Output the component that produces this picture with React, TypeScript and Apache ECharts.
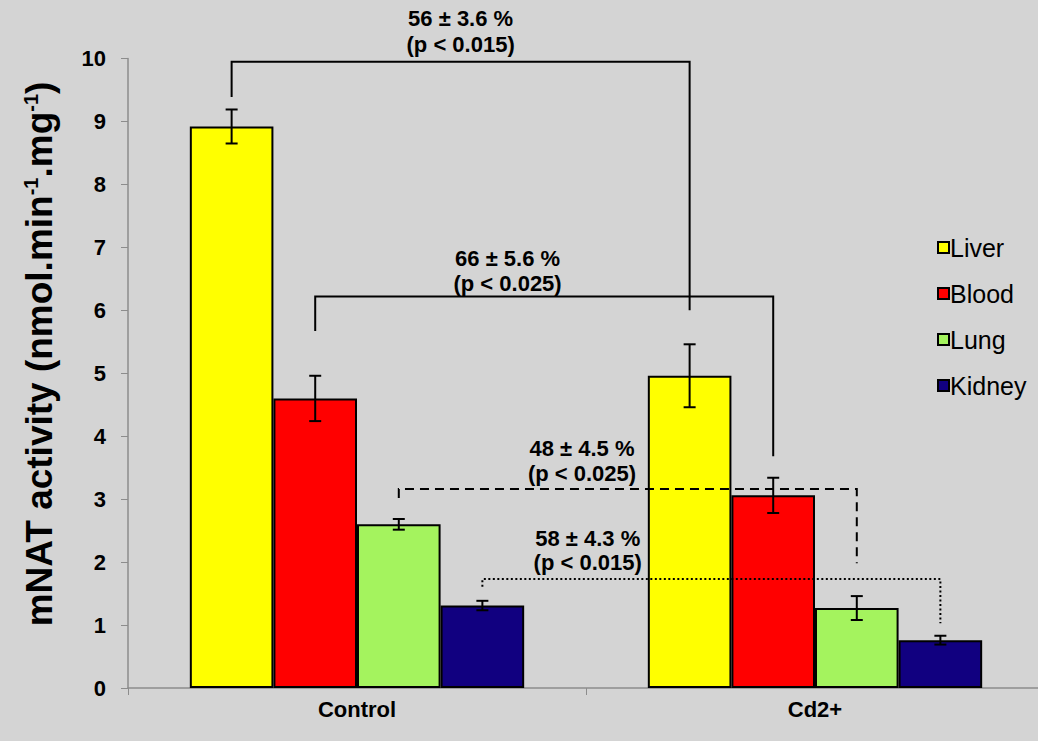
import React, { useEffect, useRef } from "react";
import * as echarts from "echarts";

const categories = ["Control", "Cd2+"];
const tissues = ["Liver", "Blood", "Lung", "Kidney"];
const tissueColors = ["#ffff00", "#ff0000", "#a4f35e", "#110080"];

const liverMean = [8.92, 4.96];
const liverErr = [0.27, 0.5];
const bloodMean = [4.6, 3.06];
const bloodErr = [0.36, 0.28];
const lungMean = [2.6, 1.27];
const lungErr = [0.085, 0.19];
const kidneyMean = [1.31, 0.76];
const kidneyErr = [0.075, 0.07];

const yTicks = [0, 1, 2, 3, 4, 5, 6, 7, 8, 9, 10];
const yTitle = "mNAT activity (nmol.min{sup|-1}.mg{sup|-1})";

// Comparison brackets (Control tissue -> Cd2+ tissue)
const bracketTissue = [0, 1, 2, 3];
const bracketLineY = [9.95, 6.22, 3.16, 1.73];
const bracketLeftEnd = [9.39, 5.67, 3.02, 1.61];
const bracketRightEnd = [6.0, 3.68, 1.98, 1.03];
const bracketDash = ["solid", "solid", "dashed", "dotted"];
const bracketPct = ["56 ± 3.6 %", "66 ± 5.6 %", "48 ± 4.5 %", "58 ± 4.3 %"];
const bracketP = ["(p < 0.015)", "(p < 0.025)", "(p < 0.025)", "(p < 0.015)"];
const bracketLabelFrac = [0.5, 0.42, 0.4, 0.23];
const bracketLabelY1 = [10.63, 6.83, 3.81, 2.38];
const bracketLabelY2 = [10.22, 6.43, 3.4, 2.0];

const means = [liverMean, bloodMean, lungMean, kidneyMean];
const errs = [liverErr, bloodErr, lungErr, kidneyErr];

const FONT = "'Liberation Sans', Arial, Helvetica, sans-serif";
const GAP = 0.27;

function barX(api: any, cat: number, k: number, v: number) {
  const band = api.size([1, 0])[0];
  const bw = (band * (1 - GAP)) / tissues.length;
  const c = api.coord([cat, v]);
  return c[0] + (k - (tissues.length - 1) / 2) * bw;
}

export default function App() {
  const ref = useRef<HTMLDivElement>(null);
  useEffect(() => {
    if (!ref.current) return;
    const chart = echarts.init(ref.current, undefined, { renderer: "svg" });

    const barSeries = tissues.map((t, k) => ({
      name: t,
      type: "bar",
      data: means[k],
      barGap: "0%",
      barCategoryGap: "27%",
      itemStyle: { color: tissueColors[k], borderColor: "#000", borderWidth: 2 },
      z: 2,
    }));

    const errSeries = tissues.map((t, k) => ({
      type: "custom",
      name: t + " error",
      z: 5,
      silent: true,
      encode: { x: 0, y: [1, 2] },
      data: categories.map((_, ci) => [ci, means[k][ci], errs[k][ci]]),
      renderItem: (params: any, api: any) => {
        const cat = api.value(0);
        const m = api.value(1);
        const e = api.value(2);
        const x = barX(api, cat, k, m);
        const hi = api.coord([cat, m + e])[1];
        const lo = api.coord([cat, m - e])[1];
        const cw = 6;
        const st = { stroke: "#000", lineWidth: 2 };
        return {
          type: "group",
          children: [
            { type: "line", shape: { x1: x, y1: hi, x2: x, y2: lo }, style: st },
            { type: "line", shape: { x1: x - cw, y1: hi, x2: x + cw, y2: hi }, style: st },
            { type: "line", shape: { x1: x - cw, y1: lo, x2: x + cw, y2: lo }, style: st },
          ],
        };
      },
    }));

    const bracketSeries = {
      type: "custom",
      name: "brackets",
      z: 6,
      silent: true,
      encode: { x: 0, y: 1 },
      data: bracketTissue.map((k, i) => [0, bracketLineY[i]]),
      renderItem: (params: any, api: any) => {
        const i = params.dataIndex;
        const k = bracketTissue[i];
        const xl = barX(api, 0, k, 0);
        const xr = barX(api, 1, k, 0);
        const yLine = api.coord([0, bracketLineY[i]])[1];
        const yl = api.coord([0, bracketLeftEnd[i]])[1];
        const yr = api.coord([0, bracketRightEnd[i]])[1];
        const dash = bracketDash[i] === "dashed" ? [9, 6] : bracketDash[i] === "dotted" ? [2, 2.5] : null;
        const lx = xl + (xr - xl) * bracketLabelFrac[i];
        const ty1 = api.coord([0, bracketLabelY1[i]])[1];
        const ty2 = api.coord([0, bracketLabelY2[i]])[1];
        const ts = (text: string) => ({
          text,
          fill: "#000",
          fontSize: 22,
          fontWeight: "bold",
          fontFamily: FONT,
          align: "center",
          verticalAlign: "middle",
        });
        return {
          type: "group",
          children: [
            {
              type: "polyline",
              shape: { points: [[xl, yl], [xl, yLine], [xr, yLine], [xr, yr]] },
              style: { stroke: "#000", lineWidth: 2, fill: null, lineDash: dash },
            },
            { type: "text", x: lx, y: ty1, style: ts(bracketPct[i]) },
            { type: "text", x: lx, y: ty2, style: ts(bracketP[i]) },
          ],
        };
      },
    };

    chart.setOption({
      animation: false,
      backgroundColor: "#d4d4d4",
      textStyle: { fontFamily: FONT },
      grid: { left: 128, right: -6, top: 58.5, bottom: 53, containLabel: false, outerBoundsMode: "none" },
      legend: {
        data: tissues,
        orient: "vertical",
        left: 932,
        top: 230,
        icon: "rect",
        itemWidth: 11,
        itemHeight: 11,
        itemGap: 21,
        textStyle: { fontSize: 25, color: "#000", fontFamily: FONT, padding: [0, 0, 0, -4] },
        selectedMode: false,
      },
      graphic: [
        {
          type: "text",
          x: 39,
          y: 354,
          rotation: Math.PI / 2,
          style: {
            text: yTitle,
            fill: "#000",
            fontSize: 37,
            fontWeight: "bold",
            fontFamily: FONT,
            align: "center",
            verticalAlign: "middle",
            rich: {
              sup: { fontSize: 20, fontWeight: "bold", fill: "#000", fontFamily: FONT, padding: [0, 0, 17, 0] },
            },
          },
        },
      ],
      xAxis: {
        type: "category",
        data: categories,
        axisLine: { lineStyle: { color: "#8c8c8c", width: 1.5 } },
        axisTick: { show: true, alignWithLabel: false, length: 7, lineStyle: { color: "#8c8c8c" } },
        axisLabel: { fontSize: 22, fontWeight: "bold", color: "#000", margin: 10, fontFamily: FONT },
      },
      yAxis: {
        type: "value",
        min: yTicks[0],
        max: yTicks[yTicks.length - 1],
        interval: 1,
        splitLine: { show: false },
        axisLine: { show: true, lineStyle: { color: "#8c8c8c", width: 1.5 } },
        axisTick: { show: true, length: 7, lineStyle: { color: "#8c8c8c" } },
        axisLabel: { fontSize: 22, fontWeight: "bold", color: "#000", margin: 22, fontFamily: FONT },
      },
      series: [...barSeries, ...errSeries, bracketSeries],
    });
    return () => chart.dispose();
  }, []);
  return <div ref={ref} style={{ position: "fixed", left: 0, top: 0, width: 1038, height: 741 }} />;
}
